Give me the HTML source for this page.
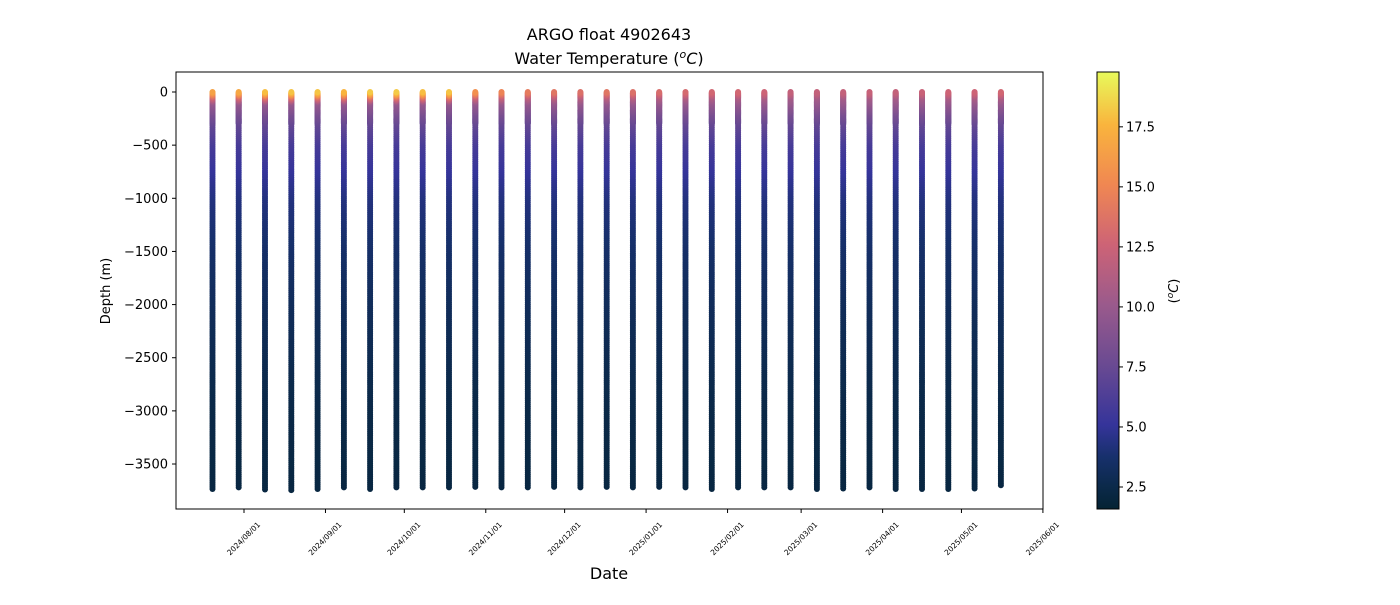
<!DOCTYPE html>
<html><head><meta charset="utf-8"><style>
body{margin:0;background:#fff;font-family:"Liberation Sans","DejaVu Sans",sans-serif}
svg text{font-family:"DejaVu Sans","Liberation Sans",sans-serif}
</style></head><body>
<svg id="chart" width="1400" height="600" xmlns="http://www.w3.org/2000/svg">
<defs>
<linearGradient id="cbgrad" x1="0" y1="1" x2="0" y2="0">
<stop offset="0" stop-color="#042333"/><stop offset="0.055" stop-color="#0c2a4c"/><stop offset="0.12" stop-color="#17306c"/>
<stop offset="0.192" stop-color="#35349a"/><stop offset="0.33" stop-color="#6a4a92"/>
<stop offset="0.467" stop-color="#9a5a8c"/><stop offset="0.604" stop-color="#cd6376"/><stop offset="0.742" stop-color="#f08752"/>
<stop offset="0.879" stop-color="#f9b43d"/><stop offset="1" stop-color="#e8fa5b"/>
</linearGradient>
</defs>
<g id="plot"></g>
<rect x="176" y="72" width="867" height="437" fill="none" stroke="#000" stroke-width="1"/>
<text x="609" y="40" font-size="16" text-anchor="middle">ARGO float 4902643</text>
<text x="609" y="64" font-size="16" text-anchor="middle">Water Temperature (<tspan font-style="italic" dy="-6" font-size="11">o</tspan><tspan font-style="italic" dy="6">C</tspan>)</text>
<text x="110" y="291" font-size="13" text-anchor="middle" transform="rotate(-90 110 291)">Depth (m)</text>
<text x="609" y="579" font-size="16" text-anchor="middle">Date</text>
<rect x="1097" y="72" width="22" height="437" fill="url(#cbgrad)" stroke="#000" stroke-width="1"/>
<text x="1178" y="291" font-size="13" text-anchor="middle" transform="rotate(-90 1178 291)">(<tspan font-style="italic" dy="-5" font-size="9">o</tspan><tspan font-style="italic" dy="5">C</tspan>)</text>
<g id="axes"></g>
</svg>
<script>
const profileDates=["2024-07-20","2024-07-30","2024-08-09","2024-08-19","2024-08-29","2024-09-08","2024-09-18","2024-09-28","2024-10-08","2024-10-18","2024-10-28","2024-11-07","2024-11-17","2024-11-27","2024-12-07","2024-12-17","2024-12-27","2025-01-06","2025-01-16","2025-01-26","2025-02-05","2025-02-15","2025-02-25","2025-03-07","2025-03-17","2025-03-27","2025-04-06","2025-04-16","2025-04-26","2025-05-06","2025-05-16"];
const surfaceTemps=[16.5,16.8,17.8,18.0,18.0,17.5,18.2,18.2,17.8,18.0,15.5,14.8,14.2,13.8,13.5,13.8,13.5,13.2,13.0,12.8,12.8,12.5,12.0,12.0,12.0,12.2,12.0,12.3,12.5,12.5,12.8];
const maxDepths=[3735,3720,3740,3745,3735,3720,3735,3720,3720,3720,3715,3720,3720,3715,3720,3715,3720,3715,3720,3735,3720,3720,3720,3735,3730,3720,3735,3735,3735,3730,3700];
const baseDepths=[0,20,50,100,200,300,500,800,1000,1500,2000,3000,4000];
const baseTemps=[12,11.5,10.5,9.8,8.3,7.2,5.8,4.8,4.2,3.5,3.0,2.3,2.0];
const yTicks=[0,-500,-1000,-1500,-2000,-2500,-3000,-3500];
const xTickLabels=["2024/08/01","2024/09/01","2024/10/01","2024/11/01","2024/12/01","2025/01/01","2025/02/01","2025/03/01","2025/04/01","2025/05/01","2025/06/01"];
const cbTicks=[2.5,5.0,7.5,10.0,12.5,15.0,17.5];
const NS="http://www.w3.org/2000/svg";
const day0=Date.UTC(2024,7,1);
function xDate(s){const p=s.split(/[-\/]/).map(Number);return 244+(Date.UTC(p[0],p[1]-1,p[2])-day0)/864e5*2.628;}
function yDepth(d){return 92-d*0.10629;}
const vmin=1.5,vmax=19.7;
function yCb(t){return 509-(t-vmin)/(vmax-vmin)*437+2;}
const cstops=[[0,[4,35,51]],[0.055,[12,42,76]],[0.12,[23,48,108]],[0.192,[53,52,154]],[0.33,[106,74,146]],[0.467,[154,90,140]],[0.604,[205,99,118]],[0.742,[240,135,82]],[0.879,[249,180,61]],[1,[232,250,91]]];
function cmap(t){let f=Math.max(0,Math.min(1,(t-vmin)/(vmax-vmin)));for(let i=1;i<cstops.length;i++){if(f<=cstops[i][0]){const a=cstops[i-1],b=cstops[i];const u=(f-a[0])/(b[0]-a[0]);const c=a[1].map((v,k)=>Math.round(v+(b[1][k]-v)*u));return `rgb(${c})`;}}return 'rgb(232,250,91)';}
function tempAt(d,S){for(let i=1;i<baseDepths.length;i++){if(d<=baseDepths[i]){const u=(d-baseDepths[i-1])/(baseDepths[i]-baseDepths[i-1]);let t=baseTemps[i-1]+(baseTemps[i]-baseTemps[i-1])*u;if(d<100){t+=(S-12)*(1-d/100);}return t;}}return 2;}
const plot=document.getElementById('plot');
profileDates.forEach((dt,pi)=>{
  const g=document.createElementNS(NS,'g');
  
  
  const x=xDate(dt);
  const levels=[];
  for(let d=maxDepths[pi];d>300;d-=20)levels.push(d);
  for(let d=300;d>=0;d-=5)levels.push(d);
  levels.forEach(d=>{
    const c=document.createElementNS(NS,'circle');
    c.setAttribute('cx',x.toFixed(1));c.setAttribute('cy',yDepth(-d).toFixed(1));c.setAttribute('r','3');
    c.setAttribute('fill',cmap(tempAt(d,surfaceTemps[pi])));
    g.appendChild(c);
  });
  plot.appendChild(g);
});
const axes=document.getElementById('axes');
function mk(tag,attrs,txt){const e=document.createElementNS(NS,tag);for(const k in attrs)e.setAttribute(k,attrs[k]);if(txt!=null)e.textContent=txt;axes.appendChild(e);return e;}
yTicks.forEach(v=>{const y=yDepth(v);
  const t=mk('line',{x1:172,x2:176,y1:y,y2:y,stroke:'#000'});
  
  const l=mk('text',{x:168,y:y+4.5,'font-size':13,'text-anchor':'end'},v<0?'\u2212'+(-v):String(v));
  });
xTickLabels.forEach(s=>{const x=xDate(s);
  const t=mk('line',{x1:x,x2:x,y1:509,y2:513,stroke:'#000'});
  
  const l=mk('text',{x:x,y:541,'font-size':7.5,'text-anchor':'middle',transform:`rotate(-45 ${x} 539)`},s);
  });
cbTicks.forEach(v=>{const y=yCb(v);
  const t=mk('line',{x1:1119,x2:1123,y1:y,y2:y,stroke:'#000'});
  
  const l=mk('text',{x:1126,y:y+4.5,'font-size':13},v.toFixed(1));
  });
</script>
</body></html>
